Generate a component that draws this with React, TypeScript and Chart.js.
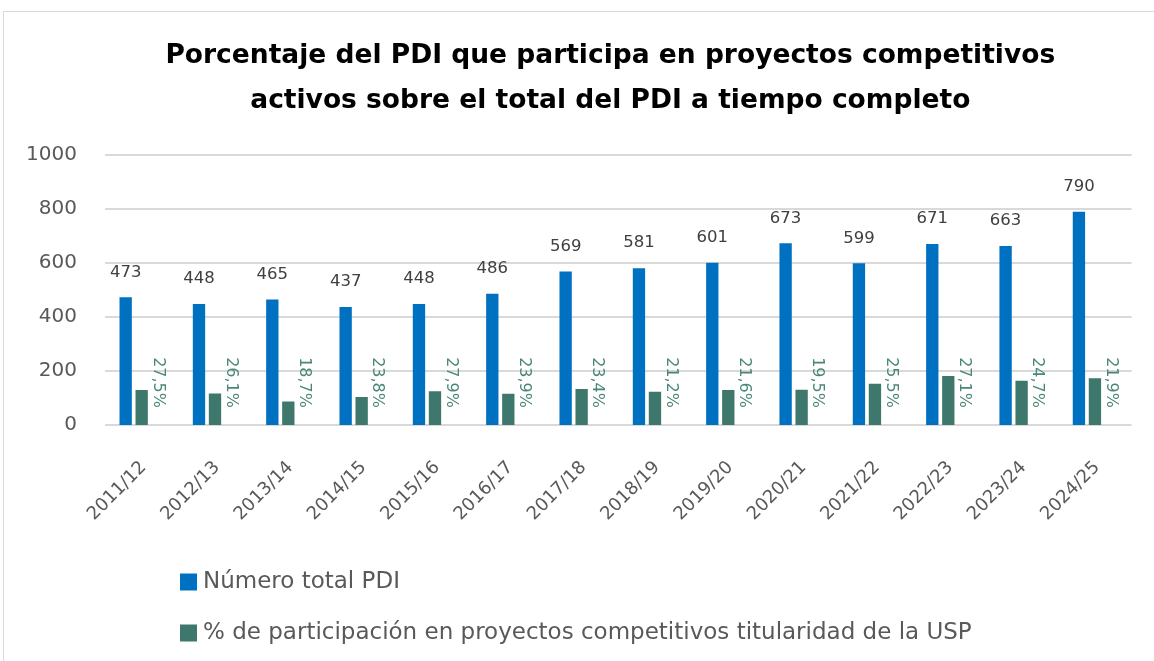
import React, { useEffect, useRef } from "react";
import { Chart, registerables } from "chart.js";

Chart.register(...registerables);

const categories = [
  "2011/12", "2012/13", "2013/14", "2014/15", "2015/16", "2016/17", "2017/18",
  "2018/19", "2019/20", "2020/21", "2021/22", "2022/23", "2023/24", "2024/25",
];
const totalPDI = [473, 448, 465, 437, 448, 486, 569, 581, 601, 673, 599, 671, 663, 790];
const participantes = [130, 117, 87, 104, 125, 116, 133, 123, 130, 131, 153, 182, 164, 173];
const percentLabels = [
  "27,5%", "26,1%", "18,7%", "23,8%", "27,9%", "23,9%", "23,4%",
  "21,2%", "21,6%", "19,5%", "25,5%", "27,1%", "24,7%", "21,9%",
];
const titleLines = [
  "Porcentaje del PDI que participa en proyectos competitivos",
  "activos sobre el total del PDI a tiempo completo",
];
const seriesNames = [
  "Número total PDI",
  "% de participación en proyectos competitivos titularidad de la USP",
];
const yTicks = { min: 0, max: 1000, step: 200 };

const BLUE = "#0070C0";
const GREEN = "#3E786D";
const FONT = "'DejaVu Sans', sans-serif";

const gridPlugin = {
  id: "customGrid",
  beforeDatasetsDraw(chart: any) {
    const { ctx, chartArea, scales } = chart;
    const y = scales.y;
    ctx.save();
    ctx.strokeStyle = "#d9d9d9";
    ctx.lineWidth = 2;
    y.ticks.forEach((t: any) => {
      const py = Math.round(y.getPixelForValue(t.value));
      ctx.beginPath();
      ctx.moveTo(chartArea.left + 8, py);
      ctx.lineTo(chartArea.right + 8, py);
      ctx.stroke();
    });
    ctx.restore();
  },
};

const labelsPlugin = {
  id: "customLabels",
  afterDatasetsDraw(chart: any) {
    const { ctx, scales } = chart;
    const m0 = chart.getDatasetMeta(0);
    const m1 = chart.getDatasetMeta(1);
    ctx.save();
    ctx.font = `16.5px ${FONT}`;
    ctx.fillStyle = "#404040";
    ctx.textAlign = "center";
    ctx.textBaseline = "middle";
    m0.data.forEach((el: any, i: number) => {
      ctx.fillText(String(totalPDI[i]), el.x, el.y - 25);
    });
    const base = scales.y.getPixelForValue(0) - 17;
    ctx.fillStyle = "#4A8779";
    ctx.font = `16px ${FONT}`;
    m1.data.forEach((el: any, i: number) => {
      ctx.save();
      ctx.translate(el.x + 16, base);
      ctx.rotate(Math.PI / 2);
      ctx.textAlign = "right";
      ctx.textBaseline = "middle";
      ctx.fillText(percentLabels[i], 0, 0);
      ctx.restore();
    });
    ctx.restore();
  },
};

const legendPlugin = {
  id: "customLegend",
  afterDraw(chart: any) {
    const { ctx } = chart;
    const ys = [570, 621];
    ctx.save();
    ctx.font = `23px ${FONT}`;
    ctx.textBaseline = "middle";
    ctx.textAlign = "left";
    chart.data.datasets.forEach((ds: any, i: number) => {
      ctx.fillStyle = ds.backgroundColor;
      ctx.fillRect(176, ys[i] - 8.5, 17, 17);
      ctx.fillStyle = "#595959";
      ctx.fillText(ds.label, 199, ys[i]);
    });
    ctx.restore();
  },
};

export default function App() {
  const ref = useRef<HTMLCanvasElement | null>(null);
  useEffect(() => {
    if (!ref.current) return;
    const chart = new Chart(ref.current, {
      type: "bar",
      data: {
        labels: categories,
        datasets: [
          {
            label: seriesNames[0],
            data: totalPDI,
            backgroundColor: BLUE,
            categoryPercentage: 0.4366,
            barPercentage: 0.77,
          },
          {
            label: seriesNames[1],
            data: participantes,
            backgroundColor: GREEN,
            categoryPercentage: 0.4366,
            barPercentage: 0.77,
          },
        ],
      },
      options: {
        responsive: false,
        animation: false,
        layout: { padding: { left: 0, right: 30.4, top: 0, bottom: 106 } },
        plugins: {
          legend: { display: false },
          tooltip: { enabled: false },
          title: {
            display: true,
            text: titleLines,
            fullSize: false,
            color: "#000000",
            font: { family: FONT, size: 26.5, weight: "bold", lineHeight: 1.7 },
            padding: { top: 21.5, bottom: 31.5 },
          },
        },
        scales: {
          x: {
            grid: { display: false, drawTicks: false },
            border: { display: false },
            ticks: {
              color: "#595959",
              font: { family: FONT, size: 18 },
              minRotation: 45,
              maxRotation: 45,
              autoSkip: false,
              padding: 32,
              labelOffset: 10,
            },
            afterFit: (s: any) => {
              s.height = 130;
            },
          },
          y: {
            min: yTicks.min,
            max: yTicks.max,
            grid: { display: false, drawTicks: false },
            border: { display: false },
            ticks: {
              stepSize: yTicks.step,
              color: "#595959",
              font: { family: FONT, size: 20 },
              padding: 20,
              callback: (v: any) => String(v),
            },
            afterFit: (s: any) => {
              s.width = 93;
            },
          },
        },
      },
      plugins: [gridPlugin, labelsPlugin, legendPlugin],
    });
    return () => chart.destroy();
  }, []);
  return (
    <div
      style={{
        position: "absolute",
        left: 3,
        top: 11,
        width: 1151,
        height: 650,
        borderTop: "1px solid #d9d9d9",
        borderLeft: "1px solid #d9d9d9",
        boxSizing: "border-box",
      }}
    >
      <canvas ref={ref} width={1150} height={649} style={{ display: "block" }} />
    </div>
  );
}
